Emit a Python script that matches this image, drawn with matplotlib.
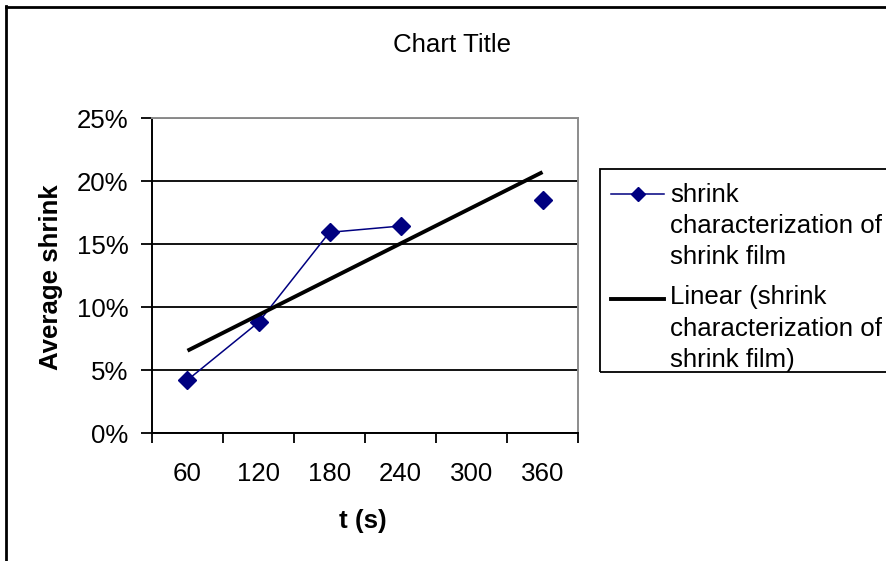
import numpy as np
import matplotlib
matplotlib.use("Agg")
import matplotlib.pyplot as plt
from matplotlib.ticker import PercentFormatter, FixedLocator, NullFormatter, FixedFormatter
from matplotlib.lines import Line2D
from matplotlib.patches import Rectangle

# ---- data ----
categories = ["60", "120", "180", "240", "300", "360"]
shrink = [0.0423, 0.0881, 0.1595, 0.1645, np.nan, 0.1852]
series_label = "shrink characterization of shrink film"
trend_label = "Linear (shrink characterization of shrink film)"
y_ticks = [0.0, 0.05, 0.10, 0.15, 0.20, 0.25]

W, H = 887, 561
plt.rcParams['font.family'] = ['Liberation Sans', 'DejaVu Sans']
FS = 18.6

fig = plt.figure(figsize=(W / 100, H / 100), dpi=100)

def fx(px):
    return px / W

def fy(py):
    return 1 - py / H

L, R, T, B = 152, 578, 118.3, 433.3
ax = fig.add_axes([fx(L), fy(B), fx(R) - fx(L), fy(T) - fy(B)])

x = np.arange(len(categories))
y = np.array(shrink, dtype=float)

navy = "#000080"
ax.plot(x, y, color=navy, lw=1.1, marker="D", markersize=9,
        markerfacecolor=navy, markeredgecolor=navy, zorder=3, clip_on=False)

# linear trendline fitted over the available points
m = ~np.isnan(y)
k, b0 = np.polyfit(x[m], y[m], 1)
xt = np.array([x[0], x[-1]])
ax.plot(xt, k * xt + b0, color="black", lw=2.8, zorder=4, solid_capstyle="butt")

ax.set_xlim(-0.5, len(categories) - 0.5)
ax.set_ylim(0, 0.25)
ax.set_yticks(y_ticks)
ax.yaxis.set_major_formatter(PercentFormatter(1.0, decimals=0))

# x: boundary ticks (major, no labels) + centred labels (minor, no tick)
ax.xaxis.set_major_locator(FixedLocator(np.arange(-0.5, len(categories), 1.0)))
ax.xaxis.set_major_formatter(NullFormatter())
ax.xaxis.set_minor_locator(FixedLocator(x))
ax.xaxis.set_minor_formatter(FixedFormatter(categories))
ax.tick_params(axis="x", which="major", direction="out", length=7, width=1.3, color="black")
ax.tick_params(axis="x", which="minor", length=0, pad=21, labelsize=FS)
ax.tick_params(axis="y", direction="out", length=8, width=1.3, pad=9, labelsize=FS)

ax.grid(axis="y", color="black", lw=1.3, zorder=1)
ax.set_axisbelow(True)
for s in ["left", "bottom"]:
    ax.spines[s].set_color("black")
    ax.spines[s].set_linewidth(1.4)
for s in ["top", "right"]:
    ax.spines[s].set_color("#8c8c8c")
    ax.spines[s].set_linewidth(1.4)

# titles and labels
fig.text(fx(452), fy(52), "Chart Title", ha="center", va="baseline", fontsize=FS)
fig.text(fx(363), fy(521), "t (s)", ha="center", va="center", fontsize=FS, fontweight="bold")
fig.text(fx(51.5), fy(277.5), "Average shrink", ha="center", va="center", rotation=90,
         fontsize=FS, fontweight="bold")

# outer chart frame
fig.add_artist(Line2D([fx(6), fx(W + 5)], [fy(6.5), fy(6.5)], color="black", lw=2.0,
                      transform=fig.transFigure))
fig.add_artist(Line2D([fx(6), fx(6)], [fy(6), fy(H + 5)], color="black", lw=2.0,
                      transform=fig.transFigure))

# legend (drawn manually to mimic multi-line Excel legend)
fig.add_artist(Rectangle((fx(600), fy(371.7)), fx(900) - fx(600), fy(169) - fy(371.7),
                         transform=fig.transFigure, fill=False, edgecolor="black", lw=1.3))
fig.add_artist(Line2D([fx(611), fx(664)], [fy(194.3), fy(194.3)], color=navy, lw=1.1,
                      transform=fig.transFigure))
fig.add_artist(Line2D([fx(638)], [fy(194.3)], color=navy, marker="D", markersize=7,
                      markerfacecolor=navy, markeredgecolor=navy, transform=fig.transFigure))
fig.add_artist(Line2D([fx(611), fx(664)], [fy(299), fy(299)], color="black", lw=2.8,
                      transform=fig.transFigure))

leg1 = ["shrink", "characterization of", "shrink film"]
leg2 = ["Linear (shrink", "characterization of", "shrink film)"]
for i, t in enumerate(leg1):
    fig.text(fx(670.5), fy(201.5 + 31.3 * i), t, ha="left", va="baseline", fontsize=FS)
for i, t in enumerate(leg2):
    fig.text(fx(670.5), fy(304.5 + 31.3 * i), t, ha="left", va="baseline", fontsize=FS)

fig.savefig("out.png", dpi=100)
